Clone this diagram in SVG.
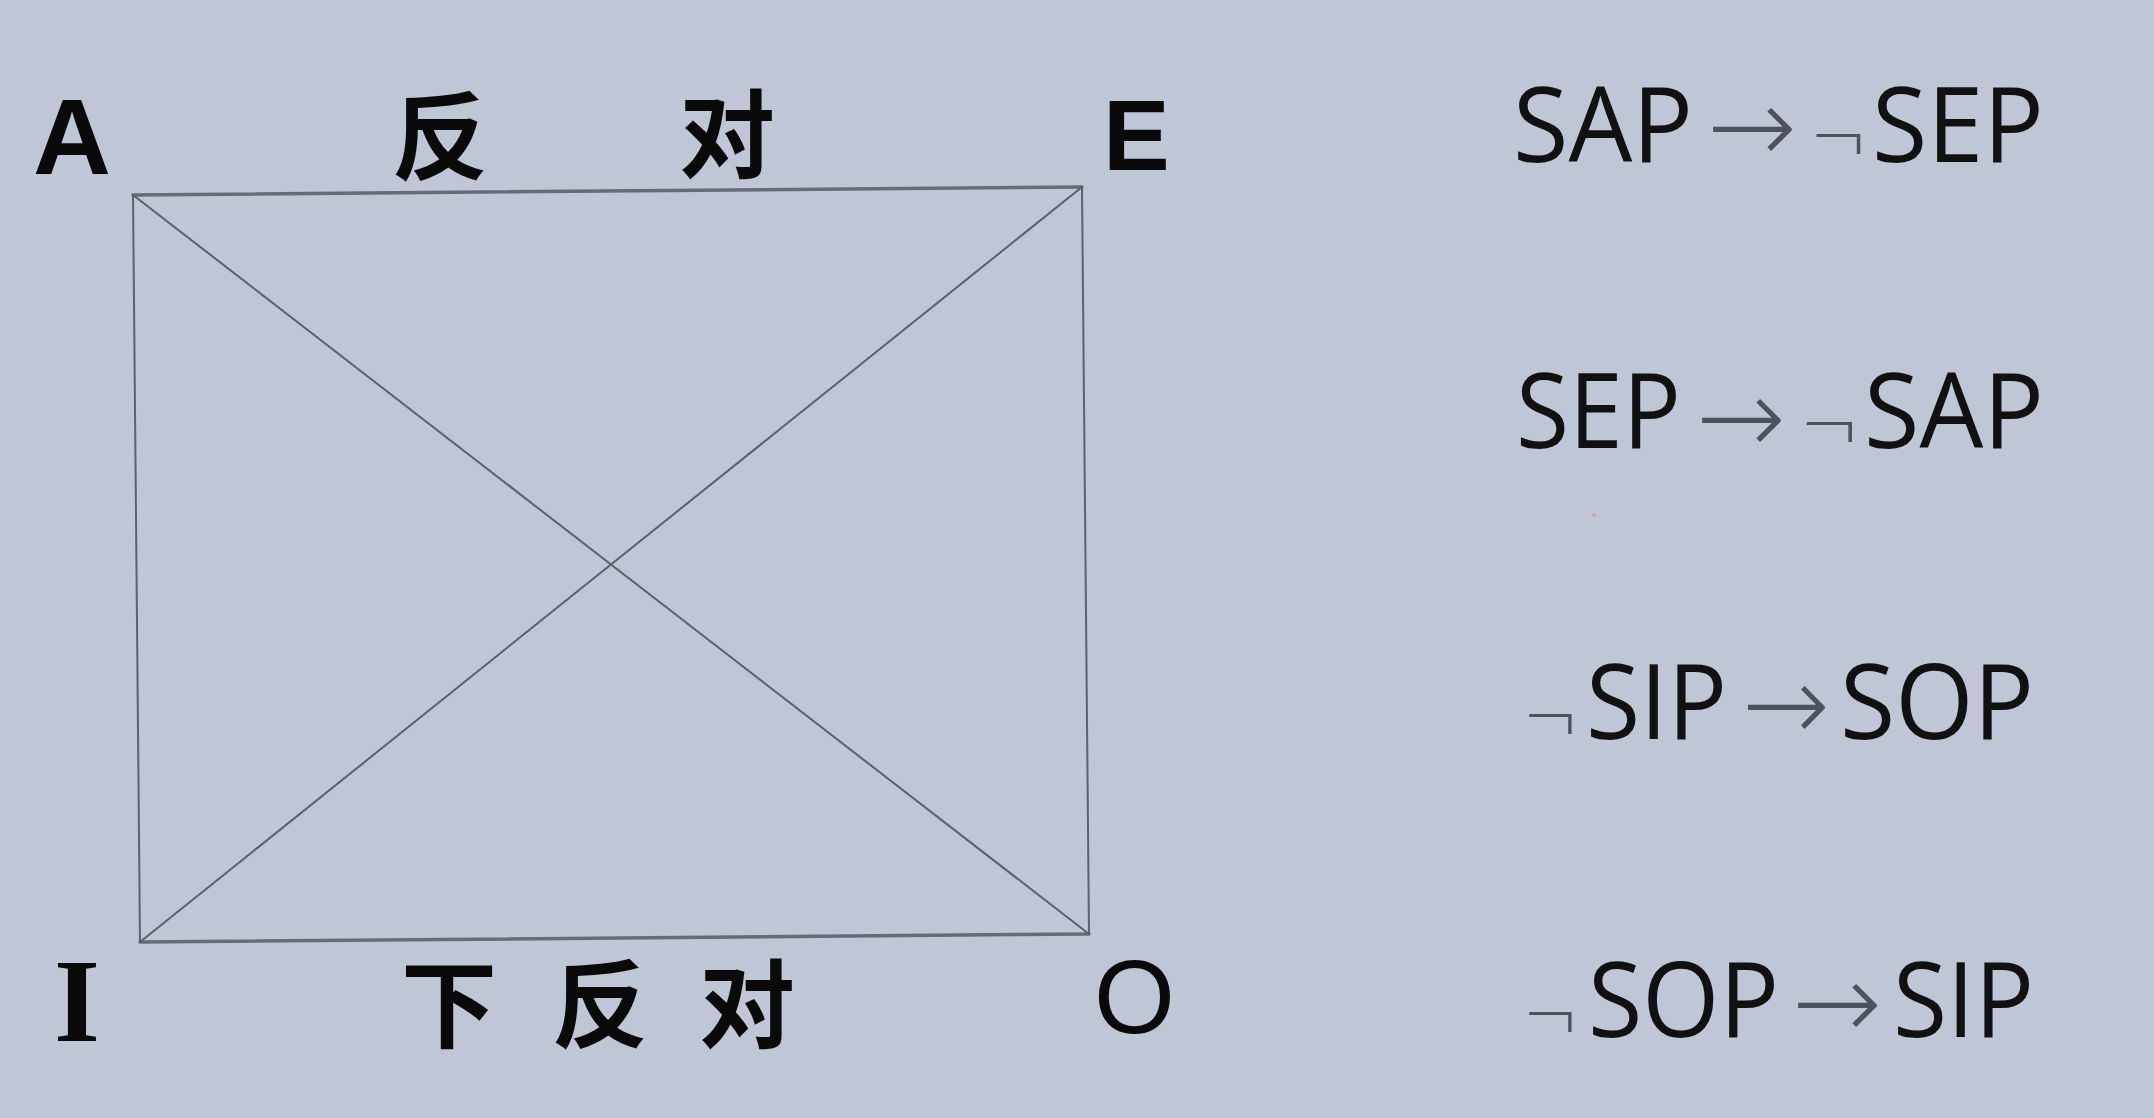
<svg xmlns="http://www.w3.org/2000/svg" width="2154" height="1118" viewBox="0 0 2154 1118">
<style>
.edge{stroke:#5c616c;stroke-width:2;fill:none;stroke-linecap:round}
.edgeB{stroke:#666b76;stroke-width:3.5;fill:none;stroke-linecap:round}
.lat{font-family:"Liberation Sans",Arial,sans-serif;font-weight:bold;fill:#0a0a0a}
.cjk{font-family:"Noto Sans CJK SC","Noto Sans",sans-serif;font-weight:bold;font-size:96px;fill:#0a0a0a}
.f{font-family:"Open Sans","Liberation Sans",Arial,sans-serif;font-size:105px;fill:#111}
.ar{font-family:"DejaVu Sans","Liberation Sans",sans-serif;font-weight:200;font-size:107px;fill:#4d525c}
.ng{font-family:"DejaVu Sans","Liberation Sans",sans-serif;font-weight:200;font-size:76px;fill:#4d525c}
</style>
<rect width="2154" height="1118" fill="#bfc6d5"/>
<g id="connectors">
<line class="edgeB" x1="133" y1="195" x2="1082" y2="187"/>
<line class="edgeB" x1="140" y1="942" x2="1089" y2="934"/>
<line class="edge" x1="133" y1="195" x2="140" y2="942"/>
<line class="edge" x1="1082" y1="187" x2="1089" y2="934"/>
<line class="edge" x1="133" y1="195" x2="1089" y2="934"/>
<line class="edge" x1="1082" y1="187" x2="140" y2="942"/>
</g>
<g id="node-A"><text class="lat" x="33" y="174" font-size="108">A</text></g>
<g id="node-E"><text class="lat" x="1103" y="170" font-size="100">E</text></g>
<g id="node-I"><text x="54" y="1041" font-family="'Liberation Serif','Times New Roman',serif" font-weight="bold" font-size="118" fill="#0a0a0a">I</text></g>
<g id="node-O"><text x="1094" y="1033" font-family="'Liberation Sans',Arial,sans-serif" font-size="104" fill="#0a0a0a">O</text></g>
<g id="label-contrary">
<text class="cjk" x="392" y="172">反</text>
<text class="cjk" x="679" y="170">对</text>
</g>
<g id="label-subcontrary">
<text class="cjk" x="401" y="1040">下</text>
<text class="cjk" x="552" y="1040">反</text>
<text class="cjk" x="699" y="1040">对</text>
</g>
<g id="formula-1">
<text class="f" x="1513" y="162" textLength="180" lengthAdjust="spacingAndGlyphs">SAP</text>
<text class="ar" x="1707" y="163" textLength="90" lengthAdjust="spacingAndGlyphs">→</text>
<text class="ng" x="1809" y="165" textLength="60" lengthAdjust="spacingAndGlyphs">¬</text>
<text class="f" x="1872" y="162" textLength="172" lengthAdjust="spacingAndGlyphs">SEP</text>
</g>
<g id="formula-2">
<text class="f" x="1516" y="448" textLength="165" lengthAdjust="spacingAndGlyphs">SEP</text>
<text class="ar" x="1696" y="454" textLength="90" lengthAdjust="spacingAndGlyphs">→</text>
<text class="ng" x="1799" y="453" textLength="62" lengthAdjust="spacingAndGlyphs">¬</text>
<text class="f" x="1864" y="448" textLength="180" lengthAdjust="spacingAndGlyphs">SAP</text>
</g>
<g id="formula-3">
<text class="ng" x="1522" y="745" textLength="58" lengthAdjust="spacingAndGlyphs">¬</text>
<text class="f" x="1586" y="739" textLength="141" lengthAdjust="spacingAndGlyphs">SIP</text>
<text class="ar" x="1742" y="741" textLength="88" lengthAdjust="spacingAndGlyphs">→</text>
<text class="f" x="1840" y="739" textLength="194" lengthAdjust="spacingAndGlyphs">SOP</text>
</g>
<g id="formula-4">
<text class="ng" x="1522" y="1043" textLength="58" lengthAdjust="spacingAndGlyphs">¬</text>
<text class="f" x="1588" y="1037" textLength="191" lengthAdjust="spacingAndGlyphs">SOP</text>
<text class="ar" x="1792" y="1039" textLength="90" lengthAdjust="spacingAndGlyphs">→</text>
<text class="f" x="1893" y="1037" textLength="141" lengthAdjust="spacingAndGlyphs">SIP</text>
</g>
<circle cx="1594" cy="515" r="2" fill="#d9a0a8"/>
</svg>
